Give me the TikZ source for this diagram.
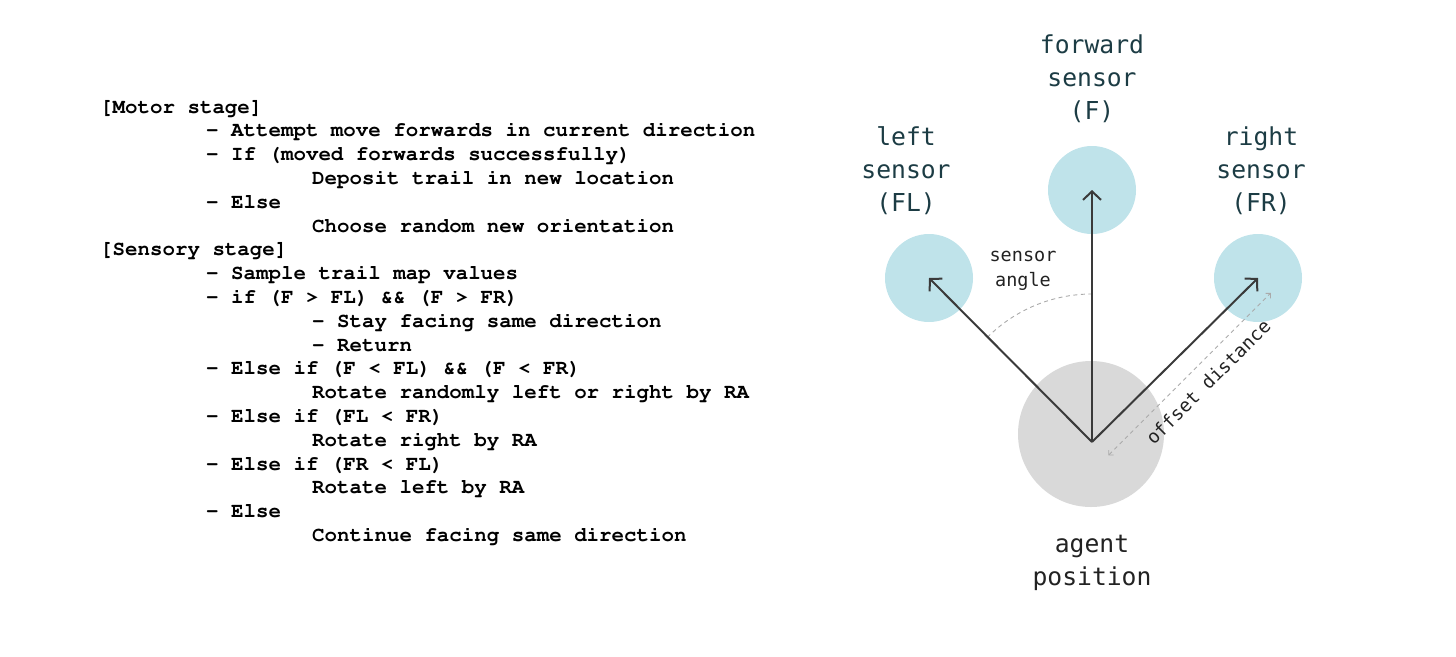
\documentclass[tikz,border=0pt]{standalone}
\usepackage{fontspec}
\usetikzlibrary{arrows.meta}
\newfontfamily\labfont{DejaVu Sans Mono}
\newcommand\mycodefont{\fontencoding{T1}\fontfamily{pcr}\fontseries{b}\fontshape{n}\fontsize{20.8}{24}\selectfont}
\definecolor{labteal}{RGB}{28,60,68}
\definecolor{labdark}{RGB}{34,34,34}
\definecolor{sensfill}{RGB}{191,227,234}
\definecolor{agentfill}{RGB}{217,217,217}
\definecolor{arrowcol}{RGB}{58,58,58}
\definecolor{dashcol}{RGB}{170,170,170}
\tikzset{
  codeline/.style={anchor=base west, inner sep=0pt, font=\mycodefont},
  biglab/.style={align=center, inner sep=0pt, font=\labfont\fontsize{24.7}{33}\selectfont},
  smalllab/.style={align=center, inner sep=0pt, font=\labfont\fontsize{18.5}{25}\selectfont, text=labdark},
  sensor/.style={circle, fill=sensfill, minimum size=88pt, inner sep=0pt},
  agentc/.style={circle, fill=agentfill, minimum size=146pt, inner sep=0pt},
  vec/.style={draw=arrowcol, line width=2pt, -{Straight Barb[length=8.5pt,width=18pt]}},
  guide/.style={draw=dashcol, line width=0.9pt, dash pattern=on 4pt off 3.5pt},
}
\begin{document}
\begin{tikzpicture}[x=1pt,y=-1pt]
\useasboundingbox (0,0) rectangle (1456,656);
% code listing
\node[codeline] (l1) at (100,113) {{[}Motor stage]};
\node[codeline] (l2) at (206,136.8) {- Attempt move forwards in current direction};
\node[codeline] (l3) at (206,160.6) {- If (moved forwards successfully)};
\node[codeline] (l4) at (312,184.4) {Deposit trail in new location};
\node[codeline] (l5) at (206,208.2) {- Else};
\node[codeline] (l6) at (312,232) {Choose random new orientation};
\node[codeline] (l7) at (100,255.8) {{[}Sensory stage]};
\node[codeline] (l8) at (206,279.6) {- Sample trail map values};
\node[codeline] (l9) at (206,303.4) {- if (F > FL) \&\& (F > FR)};
\node[codeline] (l10) at (312,327.2) {- Stay facing same direction};
\node[codeline] (l11) at (312,351) {- Return};
\node[codeline] (l12) at (206,374.8) {- Else if (F < FL) \&\& (F < FR)};
\node[codeline] (l13) at (312,398.6) {Rotate randomly left or right by RA};
\node[codeline] (l14) at (206,422.4) {- Else if (FL < FR)};
\node[codeline] (l15) at (312,446.2) {Rotate right by RA};
\node[codeline] (l16) at (206,470) {- Else if (FR < FL)};
\node[codeline] (l17) at (312,493.8) {Rotate left by RA};
\node[codeline] (l18) at (206,517.6) {- Else};
\node[codeline] (l19) at (312,541.4) {Continue facing same direction};
% diagram
\node[agentc] (agent) at (1091,434) {};
\node[sensor] (fs) at (1092,190) {};
\node[sensor] (ls) at (929,278) {};
\node[sensor] (rs) at (1258,278) {};
\coordinate (o) at (1092,442);
\coordinate (d1) at (1108.3,455.4);
\coordinate (d2) at (1270.9,292.9);
\draw[guide] (o) ++(225:148) arc[start angle=225, end angle=270, radius=148];
\draw[guide, {Straight Barb[length=3.5pt,width=7pt]}-{Straight Barb[length=3.5pt,width=7pt]}] (d1) -- (d2);
\draw[vec] (o) -- (fs.center);
\draw[vec] (o) -- (ls.center);
\draw[vec] (o) -- (rs.center);
% labels
\node[biglab, text=labteal] (fl) at (1092,79) {forward\\sensor\\(F)};
\node[biglab, text=labteal] (ll) at (906,171) {left\\sensor\\(FL)};
\node[biglab, text=labteal] (rl) at (1261,171) {right\\sensor\\(FR)};
\node[biglab, text=labdark] (al) at (1092,563) {agent\\position};
\node[smalllab] (sa) at (1023,271) {sensor\\angle};
\node[smalllab, rotate=45] (od) at (1208,382) {offset distance};
\end{tikzpicture}
\end{document}
